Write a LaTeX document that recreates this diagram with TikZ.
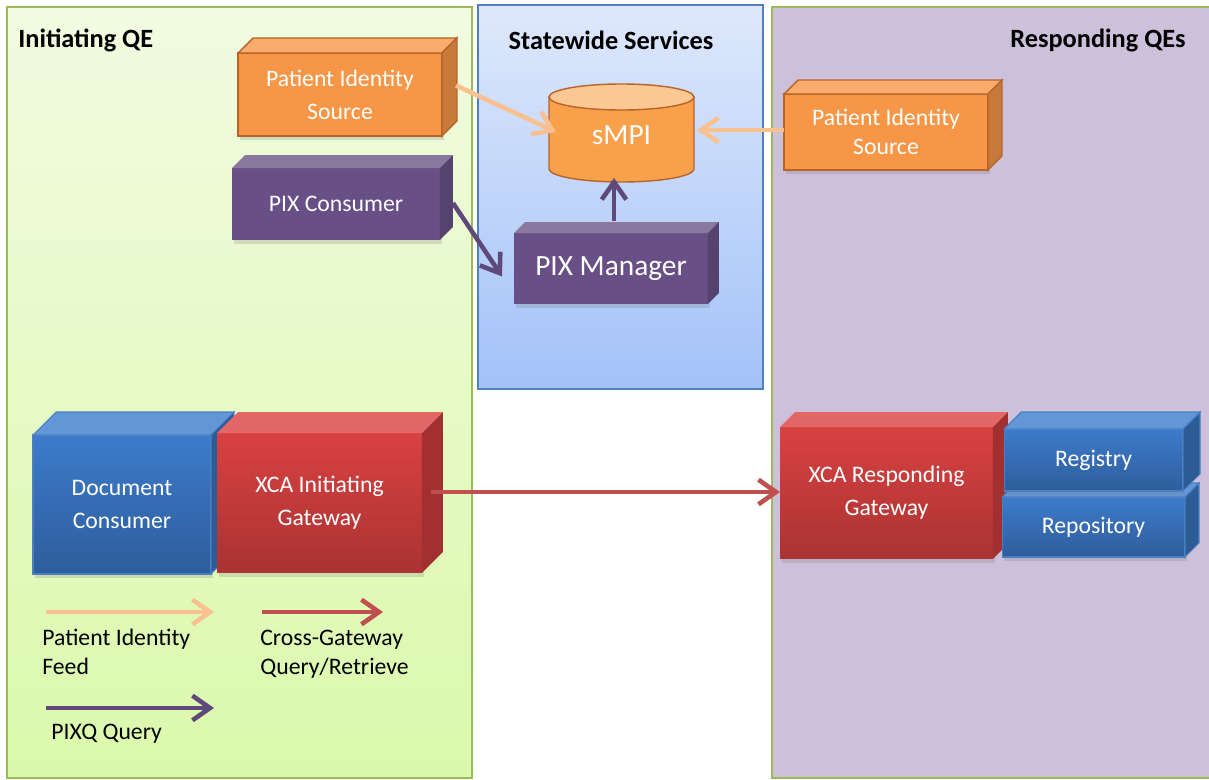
\documentclass[tikz,border=0pt]{standalone}
\usepackage{fontspec}
\setmainfont{Carlito}
\usetikzlibrary{arrows.meta,shadows}
\tikzset{>={Straight Barb[length=10pt,width=14pt]}}

\definecolor{qegreen}{HTML}{9BBB59}
\definecolor{qetop}{HTML}{F1FBE1}
\definecolor{qebottom}{HTML}{DBF9AB}
\definecolor{swline}{HTML}{4F81BD}
\definecolor{swtop}{HTML}{DEE8FB}
\definecolor{swbottom}{HTML}{A3C2F8}
\definecolor{respfill}{HTML}{CCC0DA}
\definecolor{orfront}{HTML}{F79646}
\definecolor{ortop}{HTML}{F9AC6C}
\definecolor{orside}{HTML}{C77A3A}
\definecolor{orline}{HTML}{B5642A}
\definecolor{pufront}{HTML}{684F86}
\definecolor{putop}{HTML}{8B789F}
\definecolor{puside}{HTML}{56426F}
\definecolor{blfront}{HTML}{3D7BCB}
\definecolor{blbottom}{HTML}{2E5D9C}
\definecolor{bltop}{HTML}{6297D7}
\definecolor{blside}{HTML}{2D5B94}
\definecolor{blline}{HTML}{4A7FC4}
\definecolor{rdfront}{HTML}{D94141}
\definecolor{rdbottom}{HTML}{AA3333}
\definecolor{rdtop}{HTML}{E46767}
\definecolor{rdside}{HTML}{A23030}
\definecolor{cyltop}{HTML}{FBC793}
\definecolor{cylbody}{HTML}{F9A04A}
\definecolor{feedcol}{HTML}{FAC090}
\definecolor{xcacol}{HTML}{C0504D}
\definecolor{pixcol}{HTML}{5F497A}

\tikzset{
  boxface/.style={rectangle, inner sep=0pt, outer sep=0pt, align=center, text=white,
    font=\fontsize{13.5}{18.8}\selectfont,
    drop shadow={opacity=0.25, shadow xshift=0.04cm, shadow yshift=-0.08cm}},
  orangebox/.style={boxface, fill=orfront, draw=orline, line width=0.8pt},
  purplebox/.style={boxface, fill=pufront},
  bluebox/.style={boxface, top color=blfront, bottom color=blbottom, draw=blline, line width=0.6pt},
  redbox/.style={boxface, top color=rdfront, bottom color=rdbottom},
  paneltitle/.style={inner sep=0pt, font=\fontsize{15}{18}\selectfont\bfseries},
  legendtext/.style={inner sep=0pt, align=left, font=\fontsize{13.5}{16.5}\selectfont},
  feed/.style={->, feedcol, line width=2.6pt},
  xca/.style={->, xcacol, line width=2.6pt},
  pixq/.style={->, pixcol, line width=2.6pt},
}

\begin{document}
\begin{tikzpicture}[x=0.02cm, y=-0.02cm]
\useasboundingbox (0,0) rectangle (1209,780);
% panels
\draw[draw=qegreen, line width=0.8pt, top color=qetop, bottom color=qebottom] (7,7) rectangle (472,778);
\draw[draw=swline, line width=0.8pt, top color=swtop, bottom color=swbottom] (478,5) rectangle (763,389);
\draw[draw=qegreen, line width=0.8pt, fill=respfill] (772,7) rectangle (1215,778);
\node[paneltitle, anchor=west] (tinit) at (18,40) {Initiating QE};
\node[paneltitle] (tstate) at (611,40) {Statewide Services};
\node[paneltitle, anchor=east] (tresp) at (1186,40) {Responding QEs};

% patient identity source (left)
\node[orangebox, minimum width=4.08cm, minimum height=1.66cm] (pisl) at (340,94.5) {Patient Identity\\Source};
\filldraw[fill=ortop, draw=orline, line width=0.8pt] (pisl.north west) -- ++(15,-15) -- ([shift={(15,-15)}]pisl.north east) -- (pisl.north east) -- cycle;
\filldraw[fill=orside, draw=orline, line width=0.8pt] (pisl.north east) -- ++(15,-15) -- ([shift={(15,-15)}]pisl.south east) -- (pisl.south east) -- cycle;

% pix consumer
\node[purplebox, minimum width=4.16cm, minimum height=1.44cm] (pixc) at (336,204) {PIX Consumer};
\fill[putop] (pixc.north west) -- ++(13,-13) -- ([shift={(13,-13)}]pixc.north east) -- (pixc.north east) -- cycle;
\fill[puside] (pixc.north east) -- ++(13,-13) -- ([shift={(13,-13)}]pixc.south east) -- (pixc.south east) -- cycle;

% sMPI
\node[minimum width=2.9cm, minimum height=1.44cm, inner sep=0pt, outer sep=0pt] (smpi) at (621.5,133) {};
\filldraw[fill=cylbody, draw=orline, line width=0.8pt] (smpi.north west) -- (smpi.south west)
  arc[start angle=180, end angle=360, x radius=1.45cm, y radius=0.26cm] -- (smpi.north east) -- cycle;
\filldraw[fill=cyltop, draw=orline, line width=0.8pt] (smpi.north) ellipse[x radius=1.45cm, y radius=0.26cm];
\node[text=white, font=\fontsize{16.7}{20}\selectfont] (smpitext) at ([shift={(0,2)}]smpi.center) {sMPI};

% pix manager
\node[purplebox, minimum width=3.88cm, minimum height=1.42cm, font=\fontsize{16.7}{20}\selectfont] (pixm) at (611,268.5) {PIX Manager};
\fill[putop] (pixm.north west) -- ++(11,-11) -- ([shift={(11,-11)}]pixm.north east) -- (pixm.north east) -- cycle;
\fill[puside] (pixm.north east) -- ++(11,-11) -- ([shift={(11,-11)}]pixm.south east) -- (pixm.south east) -- cycle;

% patient identity source (right)
\node[orangebox, minimum width=4.08cm, minimum height=1.52cm, font=\fontsize{13.5}{16.5}\selectfont] (pisr) at (886,132) {Patient Identity\\Source};
\filldraw[fill=ortop, draw=orline, line width=0.8pt] (pisr.north west) -- ++(14,-14) -- ([shift={(14,-14)}]pisr.north east) -- (pisr.north east) -- cycle;
\filldraw[fill=orside, draw=orline, line width=0.8pt] (pisr.north east) -- ++(14,-14) -- ([shift={(14,-14)}]pisr.south east) -- (pisr.south east) -- cycle;

% feeds and queries
\draw[feed] ([shift={(14,-9)}]pisl.east) -- ([shift={(7,-1)}]smpi.west);
\draw[feed] ([shift={(0,-2)}]pisr.west) -- ([shift={(3,-3)}]smpi.east);
\draw[pixq] ([shift={(13,-1)}]pixc.east) -- ([shift={(-12,8)}]pixm.west);
\draw[pixq] ([shift={(3,-12)}]pixm.north) -- ([shift={(-7.5,9)}]smpi.south);

% document consumer
\node[bluebox, minimum width=3.56cm, minimum height=2.78cm] (dc) at (122,504.5) {Document\\Consumer};
\filldraw[fill=bltop, draw=blline, line width=0.6pt] (dc.north west) -- ++(23,-23) -- ([shift={(23,-23)}]dc.north east) -- (dc.north east) -- cycle;
\filldraw[fill=blside, draw=blline, line width=0.6pt] (dc.north east) -- ++(23,-23) -- ([shift={(23,-23)}]dc.south east) -- (dc.south east) -- cycle;

% xca initiating gateway
\node[redbox, minimum width=4.10cm, minimum height=2.80cm] (xcai) at (319.5,503) {XCA Initiating\\Gateway};
\fill[rdtop] (xcai.north west) -- ++(21,-21) -- ([shift={(21,-21)}]xcai.north east) -- (xcai.north east) -- cycle;
\fill[rdside] (xcai.north east) -- ++(21,-21) -- ([shift={(21,-21)}]xcai.south east) -- (xcai.south east) -- cycle;

% xca responding gateway
\node[redbox, minimum width=4.26cm, minimum height=2.64cm] (xcar) at (886.5,493) {XCA Responding\\Gateway};
\fill[rdtop] (xcar.north west) -- ++(15,-15) -- ([shift={(15,-15)}]xcar.north east) -- (xcar.north east) -- cycle;
\fill[rdside] (xcar.north east) -- ++(15,-15) -- ([shift={(15,-15)}]xcar.south east) -- (xcar.south east) -- cycle;

% repository, registry
\node[bluebox, minimum width=3.66cm, minimum height=1.20cm] (rep) at (1093.5,527) {Repository};
\filldraw[fill=bltop, draw=blline, line width=0.6pt] (rep.north west) -- ++(14,-14) -- ([shift={(14,-14)}]rep.north east) -- (rep.north east) -- cycle;
\filldraw[fill=blside, draw=blline, line width=0.6pt] (rep.north east) -- ++(14,-14) -- ([shift={(14,-14)}]rep.south east) -- (rep.south east) -- cycle;
\node[bluebox, minimum width=3.58cm, minimum height=1.24cm] (reg) at (1093.5,460) {Registry};
\filldraw[fill=bltop, draw=blline, line width=0.6pt] (reg.north west) -- ++(17,-17) -- ([shift={(17,-17)}]reg.north east) -- (reg.north east) -- cycle;
\filldraw[fill=blside, draw=blline, line width=0.6pt] (reg.north east) -- ++(17,-17) -- ([shift={(17,-17)}]reg.south east) -- (reg.south east) -- cycle;

% cross-gateway query
\draw[xca] ([shift={(9,-11)}]xcai.east) -- ([shift={(0,-1)}]xcar.west);

% legend
\coordinate (feedA) at (46,612);
\coordinate (feedB) at (214,612);
\coordinate (xcaA) at (262,612);
\coordinate (xcaB) at (383,612);
\coordinate (pixA) at (46,708);
\coordinate (pixB) at (214,708);
\draw[feed] (feedA) -- (feedB);
\draw[xca] (xcaA) -- (xcaB);
\draw[pixq] (pixA) -- (pixB);
\node[legendtext, anchor=west] (lfeed) at (42,651.5) {Patient Identity\\Feed};
\node[legendtext, anchor=west] (lxca) at (260,654) {Cross-Gateway\\Query/Retrieve};
\node[legendtext, anchor=west] (lpix) at (51,734) {PIXQ Query};
\end{tikzpicture}
\end{document}
